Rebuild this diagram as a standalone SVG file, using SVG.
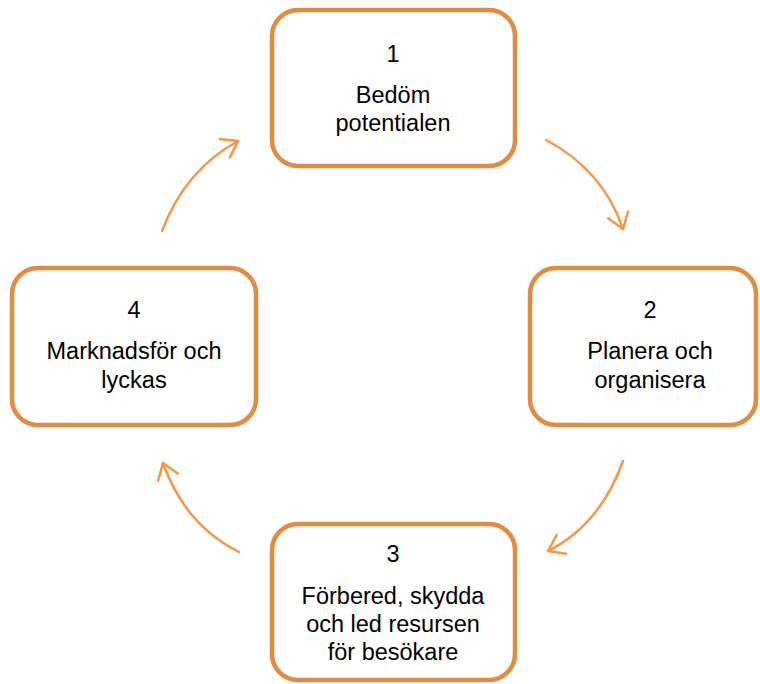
<svg xmlns="http://www.w3.org/2000/svg" width="760" height="684" viewBox="0 0 760 684">
<style>
.box{fill:#fff;stroke:#E38B3F;stroke-width:4.5}
.t{font-family:"Liberation Sans",Arial,sans-serif;font-size:23.5px;fill:#000;text-anchor:middle}
.c{fill:none;stroke:#F79646;stroke-width:2.5;stroke-linecap:round}
</style>
<defs>
<marker id="ah" markerUnits="userSpaceOnUse" markerWidth="24" markerHeight="24" refX="16" refY="10" orient="auto" overflow="visible">
<path d="M1,-0.5 L16,10 L1,20.5" fill="none" stroke="#F79646" stroke-width="2.5" stroke-linecap="round" stroke-linejoin="round"/>
</marker>
</defs>
<rect width="760" height="684" fill="#fff"/>
<g id="n1"><rect class="box" x="272" y="10" width="243" height="156" rx="26"/>
<text class="t" x="393" y="62">1</text><text class="t" x="393" y="103">Bedöm</text><text class="t" x="393" y="131">potentialen</text></g>
<g id="n2"><rect class="box" x="530" y="268" width="226" height="157" rx="26"/>
<text class="t" x="650" y="318">2</text><text class="t" x="650" y="359">Planera och</text><text class="t" x="650" y="388">organisera</text></g>
<g id="n3"><rect class="box" x="272" y="524" width="243" height="156" rx="26"/>
<text class="t" x="393" y="562">3</text><text class="t" x="393" y="604">Förbered, skydda</text><text class="t" x="393" y="632">och led resursen</text><text class="t" x="393" y="660">för besökare</text></g>
<g id="n4"><rect class="box" x="12" y="268" width="244" height="157" rx="26"/>
<text class="t" x="134" y="318">4</text><text class="t" x="134" y="359">Marknadsför och</text><text class="t" x="134" y="388">lyckas</text></g>
<g id="connectors">
<path class="c" d="M546,140 Q603,170 623,229" marker-end="url(#ah)"/>
<path class="c" d="M623,461 Q600,525 548,551" marker-end="url(#ah)"/>
<path class="c" d="M239,552 Q185,525 163,463" marker-end="url(#ah)"/>
<path class="c" d="M162,231 Q185,170 238,141" marker-end="url(#ah)"/>
</g>
</svg>
